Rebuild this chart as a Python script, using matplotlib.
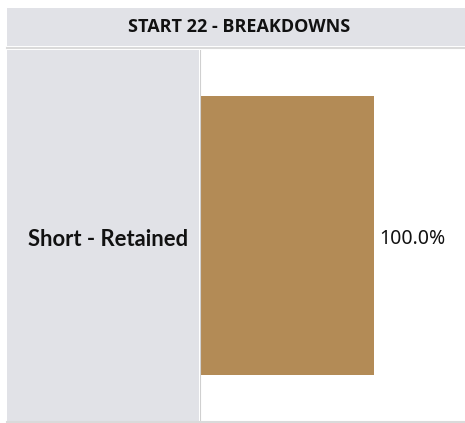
import matplotlib.pyplot as plt
from matplotlib.patches import Rectangle

# Datos
categorias = ['Short - Retained']
valores = [100.0]
titulo = 'START 22 - BREAKDOWNS'

fig = plt.figure(figsize=(4.65, 4.23), dpi=100)
W, H = 465, 423

# Banda del titulo
fig.patches.append(Rectangle((7 / W, 1 - 46 / H), 458 / W, 38 / H,
                             transform=fig.transFigure, facecolor='#e1e2e7',
                             edgecolor='none', zorder=-2))
fig.text(239.5 / W, 1 - 27 / H, titulo, ha='center', va='center',
         fontsize=13, fontweight='bold', family='Open Sans',
         fontstretch='condensed', color='#111111')

# Panel de etiquetas
fig.patches.append(Rectangle((7 / W, 1 - 421 / H), 192 / W, 371 / H,
                             transform=fig.transFigure, facecolor='#e1e2e7',
                             edgecolor='none', zorder=-2))
# Lineas separadoras
fig.add_artist(plt.Line2D([7 / W, 1], [1 - 48.5 / H, 1 - 48.5 / H],
                          transform=fig.transFigure, color='#dadada', lw=1.5))
fig.add_artist(plt.Line2D([7 / W, 1], [1 - 421.5 / H, 1 - 421.5 / H],
                          transform=fig.transFigure, color='#dadada', lw=1.5))

ax = fig.add_axes([200 / W, 1 - 421 / H, 265 / W, 371 / H])
ax.barh(range(len(categorias)), valores, height=0.752, color='#b38b56')
ax.set_xlim(0, 100 * 265 / 174)
ax.set_ylim(-0.5, 0.5)
ax.axvline(0, color='#d0d0d0', lw=1.5)
for i, (c, v) in enumerate(zip(categorias, valores)):
    ax.text(v + 3, i - 0.01, f'{v:.1f}%', va='center', ha='left',
            fontsize=14, family='Noto Sans', color='#111111')
    ax.text(-0.045, i - 0.01, c, transform=ax.get_yaxis_transform(),
            va='center', ha='right', fontsize=15.8, fontweight='bold',
            family='Lato', color='#111111')
ax.axis('off')

fig.savefig('out.png', dpi=100)
